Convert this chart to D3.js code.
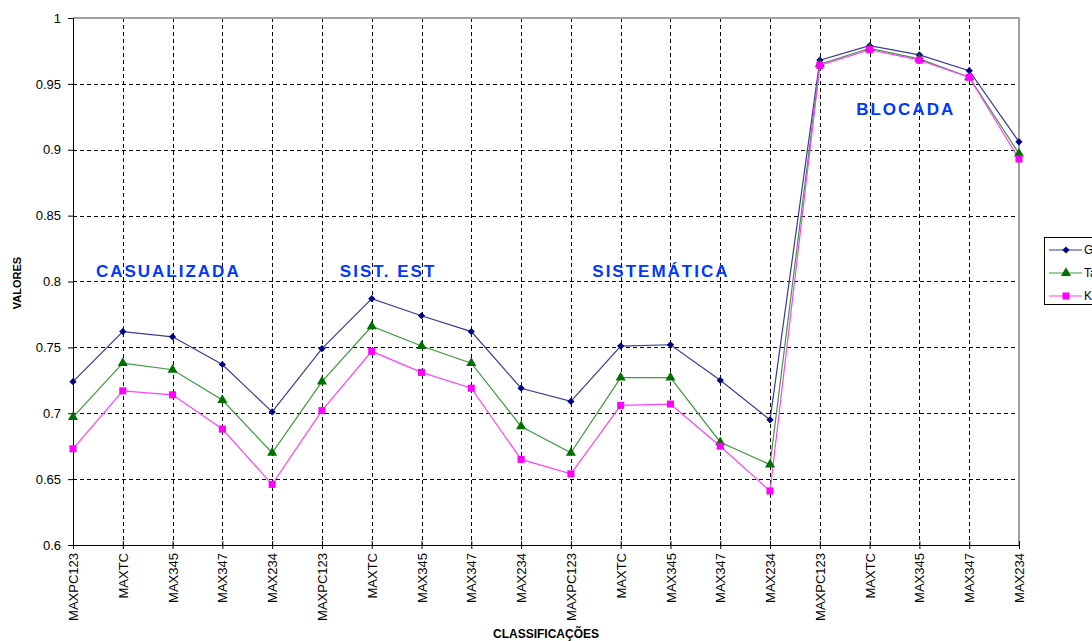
<!DOCTYPE html>
<html>
<head>
<meta charset="utf-8">
<script src="https://cdn.jsdelivr.net/npm/d3@7"></script>
<style>
  html, body { margin: 0; padding: 0; background: #fff; }
  svg { display: block; font-family: "Liberation Sans", Arial, sans-serif; }
</style>
</head>
<body>
<svg id="chart" width="1092" height="641"></svg>
<script>
const categories = [
  "MAXPC123","MAXTC","MAX345","MAX347","MAX234",
  "MAXPC123","MAXTC","MAX345","MAX347","MAX234",
  "MAXPC123","MAXTC","MAX345","MAX347","MAX234",
  "MAXPC123","MAXTC","MAX345","MAX347","MAX234"
];
const seriesNames = ["Global", "Tau", "Kappa"];
const globalValues = [
  0.724, 0.762, 0.758, 0.737, 0.701,
  0.749, 0.787, 0.774, 0.762, 0.719,
  0.709, 0.751, 0.752, 0.725, 0.695,
  0.968, 0.979, 0.972, 0.960, 0.906
];
const tauValues = [
  0.697, 0.738, 0.733, 0.710, 0.670,
  0.724, 0.766, 0.751, 0.738, 0.690,
  0.670, 0.727, 0.727, 0.678, 0.661,
  0.965, 0.977, 0.969, 0.955, 0.897
];
const kappaValues = [
  0.673, 0.717, 0.714, 0.688, 0.646,
  0.702, 0.747, 0.731, 0.719, 0.665,
  0.654, 0.706, 0.707, 0.675, 0.641,
  0.964, 0.976, 0.968, 0.955, 0.893
];
const yTicks = [0.6, 0.65, 0.7, 0.75, 0.8, 0.85, 0.9, 0.95, 1];
const groupLabels = ["CASUALIZADA", "SIST. EST", "SISTEMÁTICA", "BLOCADA"];
const groupLabelIndex = [0.46, 5.36, 10.43, 15.73];
const groupLabelValue = [0.8034, 0.8034, 0.8034, 0.9264];

const svg = d3.select("#chart");
const pLeft = 73, pRight = 1019, pTop = 18, pBottom = 545;

const x = d3.scaleLinear().domain([0, categories.length - 1]).range([pLeft, pRight]);
const y = d3.scaleLinear().domain([0.6, 1]).range([pBottom, pTop]);

// gridlines
const grid = svg.append("g");
grid.selectAll("line.h").data(yTicks.filter(t => t > 0.6 && t < 1)).join("line")
  .attr("x1", pLeft).attr("x2", pRight)
  .attr("y1", d => Math.round(y(d)) + 0.5).attr("y2", d => Math.round(y(d)) + 0.5)
  .attr("stroke", "#000").attr("stroke-width", 1).attr("stroke-dasharray", "4,3");
grid.selectAll("line.v").data(d3.range(1, categories.length - 1)).join("line")
  .attr("x1", d => Math.round(x(d)) + 0.5).attr("x2", d => Math.round(x(d)) + 0.5)
  .attr("y1", pTop).attr("y2", pBottom)
  .attr("stroke", "#000").attr("stroke-width", 1).attr("stroke-dasharray", "4,3");

// plot border (top/right gray)
svg.append("path")
  .attr("d", `M${pLeft},${pTop}H${pRight}V${pBottom}`)
  .attr("fill", "none").attr("stroke", "#a0a0a0").attr("stroke-width", 2);

// y axis
const yAxis = d3.axisLeft(y).tickValues(yTicks).tickSize(5).tickPadding(7)
  .tickFormat(d => String(+d.toFixed(2)));
const gy = svg.append("g").attr("transform", `translate(${pLeft},0)`).call(yAxis);
gy.select(".domain").attr("stroke", "#000");
gy.selectAll(".tick line").attr("stroke", "#000");
gy.selectAll(".tick text").attr("font-size", 13).attr("fill", "#000")
  .attr("font-family", "Liberation Sans, Arial, sans-serif");

// x axis
const xAxis = d3.axisBottom(x).tickValues(d3.range(categories.length))
  .tickSize(4).tickFormat(i => categories[i]);
const gx = svg.append("g").attr("transform", `translate(0,${pBottom})`).call(xAxis);
gx.select(".domain").attr("stroke", "#000");
gx.selectAll(".tick line").attr("stroke", "#000").attr("y1", -4);
gx.selectAll(".tick text")
  .attr("font-size", 13).attr("fill", "#000")
  .attr("font-family", "Liberation Sans, Arial, sans-serif")
  .attr("transform", "rotate(-90)")
  .attr("text-anchor", "end")
  .attr("x", -8).attr("y", 0).attr("dy", "0.35em");

// axis titles
svg.append("text").attr("x", pLeft + (pRight - pLeft) / 2).attr("y", 638)
  .attr("text-anchor", "middle").attr("font-size", 12).attr("font-weight", "bold")
  .text("CLASSIFICAÇÕES");
svg.append("text").attr("transform", `translate(21,283) rotate(-90)`)
  .attr("text-anchor", "middle").attr("font-size", 11).attr("font-weight", "bold")
  .text("VALORES");

// series
const series = [
  { name: seriesNames[0], values: globalValues, line: "#3a3a9a", fill: "#000080", shape: d3.symbolSquare, size: 26, rot: 45 },
  { name: seriesNames[1], values: tauValues, line: "#3c9a3c", fill: "#007000", shape: d3.symbolTriangle, size: 44, rot: 0 },
  { name: seriesNames[2], values: kappaValues, line: "#ff40ff", fill: "#ff00ff", shape: d3.symbolSquare, size: 50, rot: 0 }
];
const lineGen = d3.line().x((d, i) => x(i)).y(d => y(d));
series.forEach(s => {
  svg.append("path").datum(s.values).attr("d", lineGen)
    .attr("fill", "none").attr("stroke", s.line).attr("stroke-width", 1.2);
});
series.forEach(s => {
  svg.append("g").selectAll("path").data(s.values).join("path")
    .attr("transform", (d, i) => `translate(${x(i)},${y(d)}) rotate(${s.rot})`)
    .attr("d", d3.symbol().type(s.shape).size(s.size))
    .attr("fill", s.fill);
});

// group labels
groupLabels.forEach((t, i) => {
  svg.append("text").attr("x", x(groupLabelIndex[i])).attr("y", y(groupLabelValue[i]))
    .attr("font-size", 17).attr("font-weight", "bold").attr("letter-spacing", 2)
    .attr("fill", "#0038ff").text(t);
});

// legend
const lg = svg.append("g");
lg.append("rect").attr("x", 1044.5).attr("y", 237.5).attr("width", 80).attr("height", 67)
  .attr("fill", "#fff").attr("stroke", "#000").attr("stroke-width", 1);
series.forEach((s, i) => {
  const ly = 250 + i * 23;
  lg.append("line").attr("x1", 1049).attr("x2", 1082).attr("y1", ly).attr("y2", ly)
    .attr("stroke", s.line).attr("stroke-width", 1.2);
  lg.append("path").attr("transform", `translate(1066,${ly}) rotate(${s.rot})`)
    .attr("d", d3.symbol().type(s.shape).size(s.size)).attr("fill", s.fill);
  lg.append("text").attr("x", 1084).attr("y", ly).attr("dy", "0.35em")
    .attr("font-size", 12).text(s.name);
});
</script>
</body>
</html>
